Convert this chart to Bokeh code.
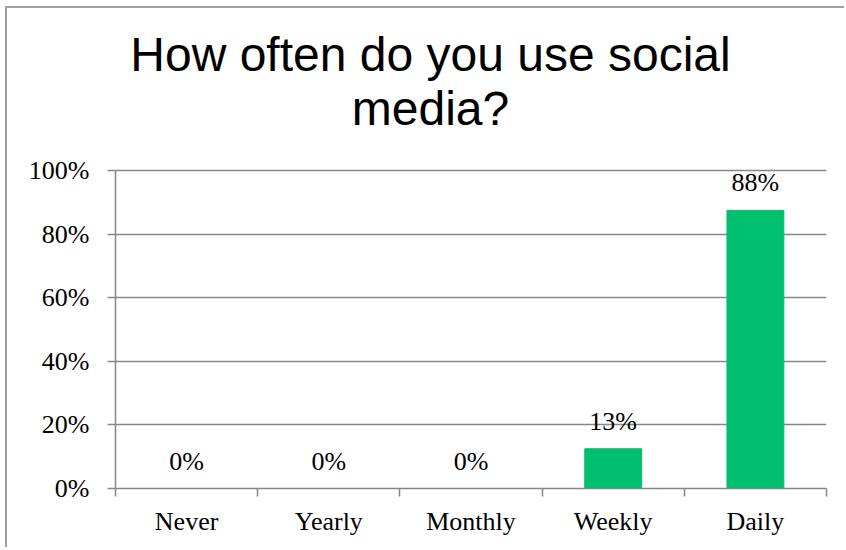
from bokeh.plotting import figure
from bokeh.models import (ColumnDataSource, LabelSet, Label, Range1d,
                          FixedTicker, PrintfTickFormatter)
from bokeh.embed import file_html
from bokeh.resources import INLINE

# ---- data ----
categories = ["Never", "Yearly", "Monthly", "Weekly", "Daily"]
values = [0, 0, 0, 12.5, 87.5]
value_labels = ["0%", "0%", "0%", "13%", "88%"]
y_ticks = [0, 20, 40, 60, 80, 100]
title_lines = ["How often do you use social", "media?"]

BAR = "#00BF6F"
GRID = "#878787"
SERIF = "Liberation Serif"

n = len(categories)
pos = [i + 0.5 for i in range(n)]  # category slot centres
src = ColumnDataSource(dict(x=pos, val=values, lab=value_labels))

# the frame reaches up to the canvas top so the title can live inside it;
# axis line and grid stop at 100%
p = figure(width=839, height=541, x_range=Range1d(0, n), y_range=Range1d(0, 151),
           output_backend="svg", toolbar_location=None, title=None,
           min_border_left=108, min_border_right=20, min_border_top=0,
           min_border_bottom=61)
p.styles = {"border-left": "2px solid #a0a0a0", "border-top": "2px solid #a0a0a0",
            "margin-left": "5px", "margin-top": "6px"}
p.outline_line_color = None
p.background_fill_color = "white"
p.border_fill_color = "white"

p.vbar(x="x", top="val", width=0.4, source=src, fill_color=BAR, line_color=BAR)

# y axis
yax = p.yaxis[0]
yax.bounds = (0, 100)
yax.ticker = FixedTicker(ticks=y_ticks)
yax.formatter = PrintfTickFormatter(format="%d%%")
yax.axis_line_color = GRID
yax.axis_line_width = 1.5
yax.major_tick_line_color = GRID
yax.major_tick_line_width = 1.5
yax.major_tick_out = 8
yax.major_tick_in = 0
yax.minor_tick_line_color = None
yax.major_label_standoff = 18
yax.major_label_text_font = SERIF
yax.major_label_text_font_size = "26px"
yax.major_label_text_color = "black"

p.xgrid.grid_line_color = None
p.ygrid.grid_line_color = GRID
p.ygrid.grid_line_width = 1.5
p.ygrid.ticker = FixedTicker(ticks=y_ticks)

# x axis: labels at category centres, ticks at category boundaries
xax = p.xaxis[0]
xax.ticker = FixedTicker(ticks=pos, minor_ticks=list(range(n + 1)))
xax.major_label_overrides = {x: c for x, c in zip(pos, categories)}
xax.axis_line_color = GRID
xax.axis_line_width = 1.5
xax.major_tick_line_color = None
xax.major_tick_out = 8
xax.minor_tick_line_color = GRID
xax.minor_tick_line_width = 1.5
xax.minor_tick_out = 8
xax.minor_tick_in = 0
xax.major_label_standoff = 10
xax.major_label_text_font = SERIF
xax.major_label_text_font_size = "26px"
xax.major_label_text_color = "black"

# data labels
p.add_layout(LabelSet(x="x", y="val", text="lab", source=src, y_offset=19,
                      text_align="center", text_baseline="alphabetic",
                      text_font=SERIF, text_font_size="26px", text_color="black"))

# title: two centred lines (centred on the whole chart, left of the frame centre)
for line, yv in zip(title_lines, [136.6, 119.4]):
    p.add_layout(Label(x=2.215, y=yv, text=line, text_align="center",
                       text_baseline="alphabetic", text_font="Liberation Sans",
                       text_font_size="48px", text_color="black"))

open("out.html", "w").write(file_html(p, INLINE))
